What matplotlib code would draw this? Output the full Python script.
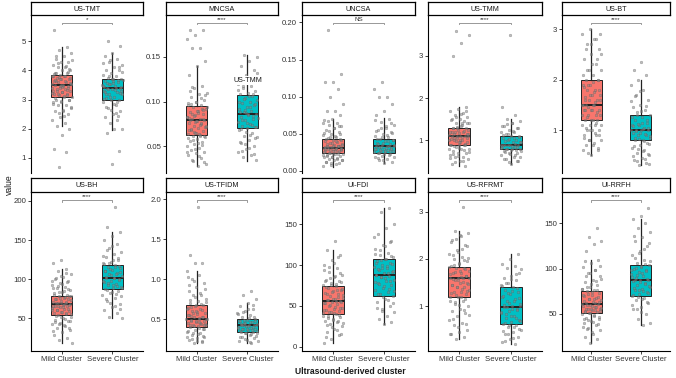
import matplotlib
matplotlib.use("Agg")
import matplotlib.pyplot as plt
import numpy as np

plt.rcParams['font.family'] = ['Liberation Sans', 'DejaVu Sans']

titles = ["US-TMT", "MNCSA", "UNCSA", "US-TMM", "US-BT",
          "US-BH", "US-TFIDM", "UI-FDI", "US-RFRMT", "UI-RRFH"]
groups = ["Mild Cluster", "Severe Cluster"]
signif = ["*", "****", "NS", "****", "****", "****", "****", "****", "****", "****"]

# box statistics per panel: (mild, severe)
q1 = [(3.09, 3.0), (0.0626, 0.0705), (0.0245, 0.024), (0.9, 0.8), (1.2, 0.8),
      (54, 87), (0.40, 0.34), (40, 62), (1.2, 0.62), (51, 70)]
med = [(3.5, 3.4), (0.0795, 0.0861), (0.031, 0.033), (1.1, 0.9), (1.5, 1.0),
       (68, 101), (0.50, 0.42), (56, 88), (1.6, 0.98), (61, 87)]
q3 = [(3.83, 3.72), (0.095, 0.107), (0.043, 0.043), (1.29, 1.1), (2.0, 1.3),
      (79, 118), (0.68, 0.50), (74, 107), (1.82, 1.4), (75, 104)]
whislo = [(2.1, 1.95), (0.028, 0.034), (0.005, 0.01), (0.4, 0.45), (0.5, 0.3),
          (18, 50), (0.2, 0.2), (4, 28), (0.3, 0.2), (18, 38)]
whishi = [(4.8, 4.6), (0.14, 0.152), (0.07, 0.071), (1.8, 1.5), (3.0, 2.0),
          (113, 160), (1.1, 0.7), (118, 170), (2.6, 2.1), (110, 155)]

# observed values (read from the jittered points)
mild_vals = [
    [5.4, 4.8, 4.7, 4.6, 4.5, 4.4, 4.3, 4.3, 4.2, 4.1, 4.1, 4.0, 4.0, 3.9, 3.9, 3.85, 3.8, 3.8, 3.75, 3.7,
     3.7, 3.65, 3.6, 3.6, 3.55, 3.5, 3.5, 3.45, 3.4, 3.4, 3.35, 3.3, 3.3, 3.25, 3.2, 3.2, 3.15, 3.1, 3.1,
     3.0, 3.0, 2.9, 2.9, 2.8, 2.8, 2.7, 2.6, 2.6, 2.5, 2.4, 2.3, 2.2, 2.1, 2.0, 1.8, 1.3, 1.2, 0.7,
     3.52, 3.48, 3.62, 3.38, 3.72, 3.28, 3.82, 3.18, 3.58, 3.42, 3.68, 3.32, 3.78, 3.22, 3.12, 3.92, 4.05,
     2.95, 2.85, 4.15, 4.25, 2.75, 2.65, 3.05, 3.95, 3.46, 3.54, 3.64, 3.36, 3.74, 3.26, 3.88, 3.16, 2.55,
     4.35, 2.45, 4.5, 3.0, 3.5, 3.8],
    [0.18, 0.18, 0.175, 0.17, 0.16, 0.16, 0.145, 0.14, 0.13, 0.118, 0.115, 0.11, 0.108, 0.105, 0.102, 0.1,
     0.098, 0.096, 0.094, 0.092, 0.09, 0.088, 0.086, 0.085, 0.083, 0.081, 0.08, 0.079, 0.078, 0.076, 0.075,
     0.073, 0.072, 0.07, 0.068, 0.067, 0.065, 0.064, 0.063, 0.062, 0.06, 0.058, 0.056, 0.055, 0.053, 0.05,
     0.048, 0.046, 0.044, 0.042, 0.04, 0.037, 0.034, 0.03, 0.028,
     0.079, 0.081, 0.077, 0.083, 0.074, 0.086, 0.071, 0.089, 0.068, 0.092, 0.066, 0.094, 0.064, 0.097,
     0.061, 0.1, 0.059, 0.104, 0.057, 0.107, 0.054, 0.112, 0.051, 0.047, 0.043, 0.039, 0.035, 0.032, 0.078,
     0.082, 0.076, 0.084, 0.073, 0.087, 0.069, 0.091, 0.065, 0.096, 0.062, 0.116],
    [0.19, 0.13, 0.12, 0.12, 0.11, 0.1, 0.09, 0.08, 0.08, 0.075, 0.07, 0.068, 0.065, 0.062, 0.06, 0.058,
     0.055, 0.052, 0.05, 0.048, 0.046, 0.044, 0.043, 0.042, 0.04, 0.039, 0.038, 0.036, 0.035, 0.034, 0.033,
     0.032, 0.031, 0.03, 0.029, 0.028, 0.027, 0.026, 0.025, 0.024, 0.023, 0.022, 0.021, 0.02, 0.019, 0.018,
     0.017, 0.016, 0.015, 0.014, 0.012, 0.01, 0.008, 0.006,
     0.031, 0.032, 0.03, 0.033, 0.029, 0.034, 0.028, 0.035, 0.027, 0.036, 0.026, 0.038, 0.025, 0.04, 0.024,
     0.041, 0.023, 0.043, 0.022, 0.045, 0.021, 0.047, 0.02, 0.049, 0.018, 0.051, 0.016, 0.054, 0.014,
     0.057, 0.012, 0.061, 0.011, 0.064, 0.009, 0.067, 0.031, 0.03, 0.032, 0.033],
    [3.6, 3.5, 3.3, 3.0, 1.8, 1.75, 1.7, 1.65, 1.6, 1.55, 1.5, 1.5, 1.45, 1.4, 1.4, 1.35, 1.3, 1.3, 1.25,
     1.2, 1.2, 1.2, 1.15, 1.1, 1.1, 1.1, 1.05, 1.0, 1.0, 1.0, 0.95, 0.9, 0.9, 0.9, 0.85, 0.8, 0.8, 0.75,
     0.7, 0.7, 0.65, 0.6, 0.6, 0.55, 0.5, 0.45, 0.4,
     1.1, 1.12, 1.08, 1.15, 1.05, 1.18, 1.02, 1.22, 0.98, 1.25, 0.95, 1.28, 0.92, 1.32, 0.88, 1.36, 0.86,
     1.42, 0.82, 1.48, 0.78, 1.55, 0.72, 1.62, 0.68, 1.7, 0.62, 0.58, 0.52, 0.48, 1.1, 1.0, 1.2, 0.9, 1.3,
     0.8, 1.4, 1.05, 1.15, 0.95],
    [3.0, 2.9, 2.8, 2.7, 2.6, 2.5, 2.4, 2.3, 2.2, 2.2, 2.1, 2.0, 2.0, 1.9, 1.9, 1.8, 1.8, 1.7, 1.7, 1.6,
     1.6, 1.6, 1.5, 1.5, 1.5, 1.4, 1.4, 1.4, 1.3, 1.3, 1.3, 1.2, 1.2, 1.2, 1.1, 1.1, 1.1, 1.0, 1.0, 1.0,
     0.9, 0.9, 0.8, 0.8, 0.7, 0.7, 0.6, 0.5,
     1.5, 1.55, 1.45, 1.6, 1.4, 1.65, 1.35, 1.7, 1.3, 1.75, 1.25, 1.8, 1.2, 1.85, 1.15, 1.9, 1.1, 1.95,
     1.05, 2.0, 1.0, 2.1, 0.95, 2.2, 0.9, 2.3, 0.85, 2.4, 0.8, 2.5, 0.75, 2.6, 0.65, 2.7, 0.6, 2.8, 0.55,
     2.9, 1.5, 1.4],
    [124, 120, 113, 110, 106, 103, 100, 97, 95, 92, 90, 88, 86, 84, 82, 80, 79, 78, 76, 75, 74, 72, 71, 70,
     69, 68, 67, 66, 65, 64, 63, 62, 60, 59, 58, 56, 55, 54, 52, 50, 48, 46, 44, 42, 40, 38, 35, 32, 28,
     25, 22, 18,
     68, 69, 67, 70, 66, 71, 65, 73, 64, 74, 62, 76, 61, 77, 60, 78, 58, 80, 57, 83, 55, 85, 53, 87, 51,
     89, 49, 91, 47, 94, 45, 96, 43, 98, 41, 101, 37, 104, 33, 108],
    [1.9, 1.3, 1.2, 1.2, 1.1, 1.05, 1.0, 0.95, 0.9, 0.85, 0.8, 0.8, 0.75, 0.72, 0.7, 0.68, 0.66, 0.64,
     0.62, 0.6, 0.58, 0.56, 0.55, 0.53, 0.52, 0.5, 0.5, 0.48, 0.47, 0.46, 0.45, 0.44, 0.43, 0.42, 0.41,
     0.4, 0.38, 0.36, 0.34, 0.32, 0.3, 0.28, 0.26, 0.24, 0.22, 0.2,
     0.5, 0.51, 0.49, 0.53, 0.47, 0.55, 0.45, 0.57, 0.44, 0.59, 0.42, 0.61, 0.41, 0.63, 0.39, 0.65, 0.37,
     0.67, 0.35, 0.69, 0.33, 0.71, 0.31, 0.74, 0.29, 0.77, 0.27, 0.82, 0.25, 0.87, 0.23, 0.92, 0.21, 0.97,
     0.5, 0.46, 0.54, 0.43, 0.6, 1.02],
    [130, 118, 112, 106, 100, 96, 92, 88, 85, 82, 80, 78, 76, 74, 72, 70, 68, 66, 64, 62, 60, 58, 57, 56,
     55, 54, 52, 50, 48, 46, 45, 44, 42, 41, 40, 38, 36, 34, 32, 30, 28, 25, 22, 18, 14, 10, 4,
     56, 57, 55, 59, 53, 61, 51, 63, 49, 65, 47, 67, 45, 69, 43, 71, 41, 73, 39, 75, 37, 77, 35, 79, 33,
     81, 31, 84, 29, 87, 27, 90, 24, 94, 20, 98, 16, 103, 12, 110],
    [3.1, 2.6, 2.55, 2.5, 2.4, 2.3, 2.2, 2.1, 2.05, 2.0, 1.95, 1.9, 1.85, 1.8, 1.8, 1.75, 1.7, 1.7, 1.65,
     1.6, 1.6, 1.6, 1.55, 1.5, 1.5, 1.45, 1.4, 1.4, 1.35, 1.3, 1.3, 1.25, 1.2, 1.2, 1.1, 1.05, 1.0, 0.95,
     0.9, 0.85, 0.8, 0.7, 0.65, 0.6, 0.5, 0.45, 0.4, 0.35, 0.3,
     1.6, 1.62, 1.58, 1.65, 1.55, 1.68, 1.52, 1.72, 1.48, 1.75, 1.44, 1.78, 1.4, 1.82, 1.36, 1.88, 1.32,
     1.92, 1.28, 1.98, 1.24, 2.02, 1.2, 2.08, 1.16, 2.15, 1.12, 2.22, 1.08, 2.28, 1.02, 2.35, 0.92, 2.42,
     0.82, 2.48, 0.72, 0.62, 0.55, 0.42],
    [145, 135, 130, 127, 120, 110, 106, 102, 98, 95, 92, 88, 85, 82, 80, 78, 76, 75, 73, 71, 70, 68, 66,
     65, 63, 62, 61, 60, 59, 58, 56, 55, 54, 53, 52, 51, 50, 48, 46, 44, 42, 40, 38, 35, 32, 28, 25, 22, 18,
     61, 62, 60, 63, 59, 64, 58, 66, 57, 67, 56, 69, 55, 71, 54, 72, 53, 74, 52, 76, 51, 78, 49, 80, 47,
     83, 45, 86, 43, 89, 41, 92, 39, 95, 36, 99, 33, 103, 30, 108],
]
severe_vals = [
    [5.0, 4.85, 4.6, 4.5, 4.4, 4.3, 4.2, 4.1, 4.0, 4.0, 3.9, 3.85, 3.8, 3.75, 3.7, 3.7, 3.65, 3.6, 3.55,
     3.5, 3.45, 3.4, 3.4, 3.35, 3.3, 3.25, 3.2, 3.2, 3.1, 3.05, 3.0, 3.0, 2.9, 2.8, 2.7, 2.6, 2.5, 2.4,
     2.3, 2.2, 2.0, 2.0, 1.85, 1.25, 0.8,
     3.42, 3.38, 3.52, 3.28, 3.62, 3.18, 3.68, 3.08, 3.48, 3.32, 3.58, 3.22, 3.72, 3.02, 2.92, 3.82, 3.95,
     2.85, 2.75, 4.1, 2.65, 4.25, 2.55, 3.36, 3.44, 3.56, 3.26, 2.45, 4.35, 3.66],
    [0.152, 0.15, 0.145, 0.14, 0.135, 0.13, 0.12, 0.118, 0.115, 0.112, 0.11, 0.108, 0.106, 0.104, 0.102,
     0.1, 0.098, 0.096, 0.094, 0.092, 0.09, 0.088, 0.086, 0.085, 0.083, 0.081, 0.079, 0.077, 0.075, 0.073,
     0.071, 0.07, 0.068, 0.065, 0.062, 0.06, 0.057, 0.054, 0.05, 0.047, 0.044, 0.04, 0.038, 0.035,
     0.086, 0.088, 0.084, 0.091, 0.082, 0.094, 0.079, 0.097, 0.076, 0.1, 0.074, 0.103, 0.072, 0.106, 0.069,
     0.109, 0.066, 0.113, 0.063, 0.117, 0.059, 0.122, 0.055, 0.127, 0.052, 0.132, 0.048, 0.045, 0.041,
     0.087],
    [0.12, 0.11, 0.1, 0.1, 0.09, 0.08, 0.075, 0.07, 0.066, 0.062, 0.058, 0.055, 0.052, 0.05, 0.047, 0.045,
     0.043, 0.042, 0.04, 0.038, 0.036, 0.035, 0.034, 0.033, 0.032, 0.031, 0.03, 0.029, 0.028, 0.027,
     0.026, 0.025, 0.024, 0.022, 0.02, 0.018, 0.016, 0.014, 0.012, 0.01,
     0.033, 0.034, 0.032, 0.035, 0.031, 0.036, 0.03, 0.038, 0.029, 0.04, 0.028, 0.041, 0.027, 0.043, 0.026,
     0.045, 0.025, 0.048, 0.024, 0.051, 0.023, 0.054, 0.021, 0.057, 0.019, 0.06, 0.017, 0.064, 0.015,
     0.068],
    [3.5, 1.8, 1.6, 1.5, 1.45, 1.4, 1.35, 1.3, 1.25, 1.2, 1.2, 1.15, 1.1, 1.1, 1.05, 1.0, 1.0, 0.95, 0.95,
     0.9, 0.9, 0.9, 0.85, 0.85, 0.8, 0.8, 0.8, 0.75, 0.7, 0.7, 0.65, 0.6, 0.55, 0.5, 0.45,
     0.9, 0.92, 0.88, 0.95, 0.86, 0.98, 0.84, 1.02, 0.82, 1.05, 0.8, 1.08, 0.78, 1.12, 0.76, 1.16, 0.74,
     1.22, 0.72, 1.28, 0.68, 1.33, 0.64, 1.38, 0.6, 1.42, 0.56, 0.52, 0.48, 0.9],
    [2.35, 2.2, 2.1, 2.0, 1.9, 1.8, 1.7, 1.6, 1.5, 1.45, 1.4, 1.35, 1.3, 1.25, 1.2, 1.15, 1.1, 1.1, 1.05,
     1.0, 1.0, 1.0, 0.95, 0.9, 0.9, 0.85, 0.8, 0.8, 0.75, 0.7, 0.65, 0.6, 0.55, 0.5, 0.45, 0.4, 0.35, 0.3,
     1.0, 1.02, 0.98, 1.05, 0.95, 1.08, 0.92, 1.12, 0.88, 1.15, 0.85, 1.2, 0.82, 1.25, 0.78, 1.3, 0.72,
     1.38, 0.68, 1.48, 0.62, 1.58, 0.58, 1.68, 0.52, 1.78, 0.48, 0.42, 0.38, 0.33],
    [192, 167, 160, 155, 150, 145, 140, 135, 132, 128, 125, 122, 120, 118, 116, 114, 112, 110, 108, 106,
     104, 102, 101, 100, 98, 96, 94, 92, 90, 88, 87, 85, 82, 80, 76, 72, 68, 64, 60, 56, 52, 50,
     101, 103, 99, 105, 97, 107, 95, 109, 93, 111, 91, 113, 89, 115, 86, 117, 84, 119, 81, 121, 78, 124,
     74, 127, 70, 130, 66, 137, 62, 143],
    [0.85, 0.8, 0.75, 0.7, 0.66, 0.62, 0.6, 0.58, 0.55, 0.52, 0.5, 0.49, 0.48, 0.46, 0.45, 0.44, 0.43,
     0.42, 0.42, 0.41, 0.4, 0.39, 0.38, 0.37, 0.36, 0.35, 0.34, 0.33, 0.32, 0.3, 0.28, 0.26, 0.24, 0.22, 0.2,
     0.42, 0.43, 0.41, 0.44, 0.4, 0.45, 0.39, 0.46, 0.38, 0.47, 0.37, 0.48, 0.36, 0.49, 0.35, 0.51, 0.34,
     0.53, 0.33, 0.56, 0.31, 0.59, 0.29, 0.63, 0.27, 0.67, 0.25, 0.23, 0.21, 0.42],
    [170, 165, 150, 145, 138, 130, 125, 120, 115, 112, 110, 107, 105, 102, 100, 98, 96, 94, 92, 90, 88,
     87, 85, 82, 80, 78, 75, 72, 70, 67, 64, 62, 58, 55, 50, 46, 42, 38, 34, 30, 28,
     88, 90, 86, 93, 84, 95, 81, 97, 79, 99, 77, 101, 74, 103, 71, 106, 68, 108, 65, 111, 61, 114, 57,
     118, 53, 123, 48, 128, 44, 135],
    [2.1, 2.0, 1.9, 1.85, 1.8, 1.7, 1.65, 1.6, 1.55, 1.5, 1.45, 1.4, 1.35, 1.3, 1.25, 1.2, 1.15, 1.1,
     1.05, 1.0, 0.98, 0.95, 0.9, 0.85, 0.8, 0.75, 0.7, 0.66, 0.62, 0.6, 0.55, 0.5, 0.45, 0.4, 0.35, 0.3,
     0.25, 0.2,
     0.98, 1.0, 0.95, 1.03, 0.92, 1.07, 0.88, 1.12, 0.84, 1.17, 0.79, 1.22, 0.74, 1.27, 0.69, 1.32, 0.64,
     1.38, 0.6, 1.43, 0.56, 1.5, 0.52, 1.58, 0.47, 1.68, 0.42, 1.78, 0.32, 0.27],
    [167, 158, 155, 150, 145, 140, 135, 130, 125, 120, 115, 110, 106, 104, 102, 100, 98, 96, 94, 92, 90,
     88, 87, 86, 84, 82, 80, 78, 76, 74, 72, 70, 68, 65, 62, 58, 55, 50, 45, 40, 38,
     87, 89, 85, 91, 83, 93, 81, 95, 79, 97, 77, 99, 75, 101, 73, 103, 71, 105, 69, 108, 66, 112, 63, 117,
     60, 122, 56, 128, 52, 136],
]

yticks = [[1, 2, 3, 4, 5], [0.05, 0.10, 0.15], [0.0, 0.05, 0.10, 0.15, 0.20], [1, 2, 3], [1, 2, 3],
          [50, 100, 150, 200], [0.5, 1.0, 1.5, 2.0], [0, 50, 100, 150], [1, 2, 3], [50, 100, 150]]
ytickfmt = ["{:.0f}", "{:.2f}", "{:.2f}", "{:.0f}", "{:.0f}",
            "{:.0f}", "{:.1f}", "{:.0f}", "{:.0f}", "{:.0f}"]
ylims = [(0.48, 5.9), (0.02, 0.197), (-0.003, 0.21), (0.225, 3.97), (0.15, 3.28),
         (8, 211.5), (0.1, 2.09), (-5.3, 189.6), (0.05, 3.42), (9.2, 184.5)]

colors = ["#F8766D", "#00BFC4"]

W, H = 676, 378
fig = plt.figure(figsize=(W / 100, H / 100), dpi=100)

lefts = [31, 166, 302, 428, 562]
widths = [112, 112, 113, 114, 108]
rows = [(15, 173, 2), (192, 351, 178)]  # plot top, plot bottom, strip top


def jitter(n, shift):
    k = np.arange(n)
    frac = (k * 0.6180339887 + shift) % 1.0
    return (frac - 0.5) * 0.4


for i in range(10):
    r, c = divmod(i, 5)
    top, bot, stop = rows[r]
    x0 = lefts[c]
    w = widths[c]
    ax = fig.add_axes([x0 / W, 1 - bot / H, w / W, (bot - top) / H])
    sax = fig.add_axes([x0 / W, 1 - top / H, w / W, (top - stop) / H])
    sax.set_xticks([]); sax.set_yticks([])
    for s in sax.spines.values():
        s.set_linewidth(0.9)
    sax.text(0.5, 0.45, titles[i], ha='center', va='center', fontsize=5.2, color='#1A1A1A',
             transform=sax.transAxes)

    stats = []
    for g in range(2):
        stats.append(dict(med=med[i][g], q1=q1[i][g], q3=q3[i][g],
                          whislo=whislo[i][g], whishi=whishi[i][g], fliers=[]))
    bp = ax.bxp(stats, positions=[1, 2], widths=0.42, patch_artist=True, showcaps=False,
                boxprops=dict(linewidth=0.7, edgecolor='#222222'),
                whiskerprops=dict(linewidth=0.9, color='#222222'),
                medianprops=dict(linewidth=1.4, color='#222222'), zorder=2)
    for patch, col in zip(bp['boxes'], colors):
        patch.set_facecolor(col)

    for g, vals in enumerate([mild_vals[i], severe_vals[i]]):
        v = np.array(vals)
        xs = (g + 1) + jitter(len(v), 0.13 * (g + 1) + 0.07 * i)
        ax.scatter(xs, v, s=4, facecolor='#8a8a8a', edgecolor='#4a4a4a', linewidths=0.25,
                   alpha=0.55, zorder=3)

    ax.set_xlim(0.4, 2.6)
    ax.set_ylim(*ylims[i])
    ax.set_yticks(yticks[i])
    ax.set_yticklabels([ytickfmt[i].format(t) for t in yticks[i]])
    if r == 1:
        ax.set_xticks([1, 2])
        ax.set_xticklabels(groups)
        ax.spines['bottom'].set_linewidth(0.8)
    else:
        ax.set_xticks([])
        ax.spines['bottom'].set_visible(False)
    ax.tick_params(axis='both', labelsize=5.6, colors='#222222', length=2, width=0.6, pad=1.5,
                   labelcolor='#333333')
    for s in ['top', 'right']:
        ax.spines[s].set_visible(False)
    ax.spines['left'].set_linewidth(0.8)

    # significance bracket
    ylo, yhi = ylims[i]
    yb = ylo + (yhi - ylo) * 0.952
    tick = (yhi - ylo) * 0.012
    ax.plot([1, 1, 2, 2], [yb - tick, yb, yb, yb - tick], color='#888888', lw=0.6, zorder=4)
    ax.text(1.5, yb + (yhi - ylo) * 0.004, signif[i], ha='center', va='bottom', fontsize=4.5,
            color='#333333', zorder=4)

    if i == 1:
        ax.text(2, 0.124, "US-TMM", ha='center', va='center', fontsize=5.2, color='#1A1A1A',
                zorder=5, bbox=dict(facecolor='white', edgecolor='none', pad=0.6))

fig.text(9 / W, 1 - 185 / H, "value", rotation=90, ha='center', va='center', fontsize=6.2,
         color='#1A1A1A')
fig.text(350 / W, 1 - 371 / H, "Ultrasound-derived cluster", ha='center', va='center',
         fontsize=6.2, fontweight='bold', color='#1A1A1A')

fig.savefig("out.png", dpi=100)
